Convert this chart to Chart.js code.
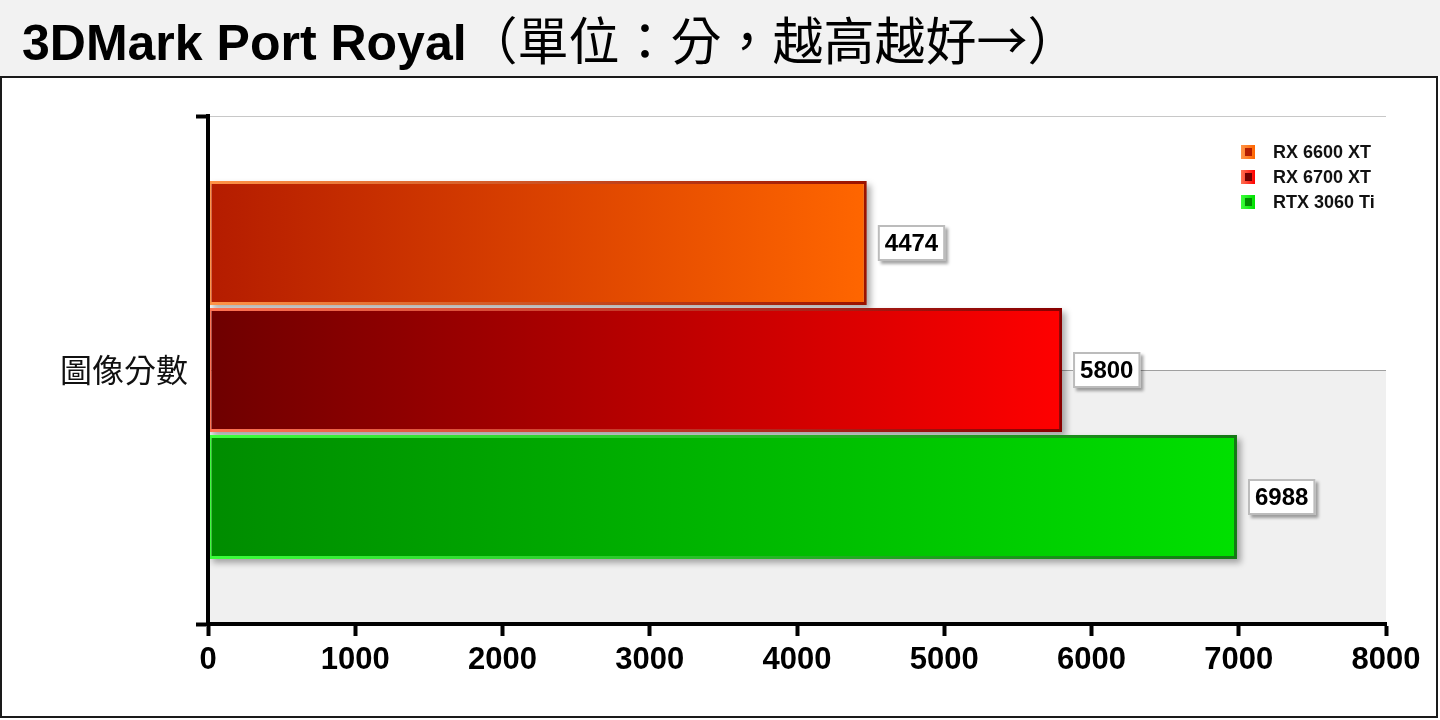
<!DOCTYPE html>
<html>
<head>
<meta charset="utf-8">
<script src="https://cdn.jsdelivr.net/npm/chart.js@4.4.1/dist/chart.umd.min.js"></script>
<style>
  body { margin:0; background:#fff; width:1440px; height:720px; overflow:hidden; position:relative; }
  #title { position:absolute; left:0; top:0; width:1440px; height:76px; background:#f2f2f2;
    font:bold 50px 'Liberation Sans', Arial, sans-serif; line-height:76px; padding-left:22px; box-sizing:border-box; color:#000; white-space:nowrap; }
  #title .cjk { font-family:'Noto Sans CJK TC', sans-serif; font-weight:400; font-size:51px; }
  #frame { position:absolute; left:0; top:76px; width:1438px; height:642px; border:2px solid #1a1a1a; box-sizing:border-box; }
  #chart { position:absolute; left:2px; top:78px; }
</style>
</head>
<body>
<div id="title">3DMark Port Royal<span class="cjk">（單位：分，越高越好→）</span></div>
<div id="frame"></div>
<canvas id="chart" width="1434" height="638"></canvas>
<script>
const categories = ['圖像分數'];
const seriesNames = ['RX 6600 XT', 'RX 6700 XT', 'RTX 3060 Ti'];
const rx6600 = [4474];
const rx6700 = [5800];
const rtx3060 = [6988];
const axisMax = 8000;
const axisStep = 1000;

// fill gradient (left->right) and border gradient for each card
const fills = [['#b41c00', '#ff6600'], ['#6e0000', '#ff0000'], ['#008c00', '#00e000']];
const edges = [['#ff9448', '#9a1200'], ['#ff7454', '#880000'], ['#3cff3c', '#147814']];

function grad(i, stops) {
  return (c) => {
    const chart = c.chart, a = chart.chartArea;
    if (!a || c.type !== 'data') return stops[i][1];
    const end = chart.scales.x.getPixelForValue(c.raw);
    const g = chart.ctx.createLinearGradient(a.left, 0, end, 0);
    g.addColorStop(0, stops[i][0]);
    g.addColorStop(1, stops[i][1]);
    return g;
  };
}

const plotDeco = {
  id: 'plotDeco',
  beforeDraw(chart) {
    const {ctx, chartArea: a} = chart;
    const mid = chart.scales.y.getPixelForValue(0);
    ctx.save();
    ctx.fillStyle = '#f0f0f0';
    ctx.fillRect(a.left, mid, a.right - a.left, a.bottom - mid);
    ctx.restore();
  },
  beforeDatasetsDraw(chart) {
    const {ctx, chartArea: a} = chart;
    const mid = Math.round(chart.scales.y.getPixelForValue(0)) + 0.5;
    ctx.save();
    ctx.strokeStyle = '#a0a0a0';
    ctx.lineWidth = 1;
    ctx.beginPath(); ctx.moveTo(a.left, mid); ctx.lineTo(a.right, mid); ctx.stroke();
    // drop shadows under the bars
    ctx.fillStyle = 'rgba(0,0,0,0.32)';
    ctx.filter = 'blur(3px)';
    chart.data.datasets.forEach((d, i) => {
      chart.getDatasetMeta(i).data.forEach(bar => {
        const p = bar.getProps(['x', 'y', 'base', 'height'], true);
        ctx.fillRect(p.base + 4, p.y - p.height / 2 + 4, p.x - p.base, p.height);
      });
    });
    ctx.restore();
  },
  afterDatasetsDraw(chart) {
    const ctx = chart.ctx;
    ctx.save();
    ctx.font = 'bold 24px "Liberation Sans", Arial, sans-serif';
    ctx.textAlign = 'center';
    ctx.textBaseline = 'middle';
    chart.data.datasets.forEach((d, i) => {
      chart.getDatasetMeta(i).data.forEach((bar, j) => {
        const p = bar.getProps(['x', 'y'], true);
        const txt = String(d.data[j]);
        const w = ctx.measureText(txt).width + 14, h = 36;
        const x = p.x + 11, y = Math.round(p.y - h / 2);
        ctx.fillStyle = 'rgba(0,0,0,0.35)';
        ctx.filter = 'blur(1.5px)';
        ctx.fillRect(x + 3, y + 3, w, h);
        ctx.filter = 'none';
        ctx.fillStyle = '#fff';
        ctx.fillRect(x, y, w, h);
        ctx.strokeStyle = '#bcbcbc';
        ctx.lineWidth = 2;
        ctx.strokeRect(x + 1, y + 1, w - 2, h - 2);
        ctx.fillStyle = '#000';
        ctx.fillText(txt, x + w / 2, y + h / 2 + 1);
      });
    });
    ctx.restore();
  },
  afterDraw(chart) {
    const {ctx, chartArea: a} = chart;
    ctx.save();
    ctx.font = 'bold 18px "Liberation Sans", Arial, sans-serif';
    ctx.textBaseline = 'middle';
    seriesNames.forEach((name, i) => {
      const cy = a.top + 36 + i * 25;
      const bx = a.right - 145;
      const g = ctx.createLinearGradient(bx, 0, bx + 14, 0);
      g.addColorStop(0, edges[i][0]);
      g.addColorStop(1, fills[i][1]);
      ctx.fillStyle = g;
      ctx.fillRect(bx, cy - 7, 14, 14);
      ctx.fillStyle = fills[i][0];
      ctx.fillRect(bx + 4, cy - 4, 7, 8);
      ctx.fillStyle = '#111';
      ctx.fillText(name, a.right - 113, cy + 1);
    });
    ctx.restore();
  }
};

const values = [rx6600, rx6700, rtx3060];

new Chart(document.getElementById('chart'), {
  type: 'bar',
  data: {
    labels: categories,
    datasets: seriesNames.map((name, i) => ({
      label: name,
      data: values[i],
      backgroundColor: grad(i, fills),
      borderColor: grad(i, edges),
      borderWidth: 3,
      borderSkipped: false,
      categoryPercentage: 0.75,
      barPercentage: 0.975
    }))
  },
  options: {
    indexAxis: 'y',
    responsive: false,
    animation: false,
    devicePixelRatio: 1,
    layout: { padding: { top: 38, right: 50, left: 0, bottom: 0 } },
    plugins: { legend: { display: false }, tooltip: { enabled: false } },
    scales: {
      x: {
        min: 0, max: axisMax,
        afterFit(s) { s.height = 92; },
        ticks: { stepSize: axisStep, color: '#000', padding: 6,
          callback: (v) => String(v),
          font: { family: '"Liberation Sans", Arial, sans-serif', size: 31, weight: 'bold' } },
        grid: { drawOnChartArea: false, tickLength: 12, tickWidth: 4, tickColor: '#000' },
        border: { display: true, width: 4, color: '#000', z: 1 }
      },
      y: {
        afterFit(s) { s.width = 206; },
        ticks: { color: '#111', padding: 8,
          font: { family: '"Noto Sans CJK TC", sans-serif', size: 32, weight: 'normal' } },
        grid: { color: '#c8c8c8', lineWidth: 1, tickLength: 12, tickWidth: 4, tickColor: '#000' },
        border: { display: true, width: 4, color: '#000', z: 1 }
      }
    }
  },
  plugins: [plotDeco]
});
</script>
</body>
</html>
